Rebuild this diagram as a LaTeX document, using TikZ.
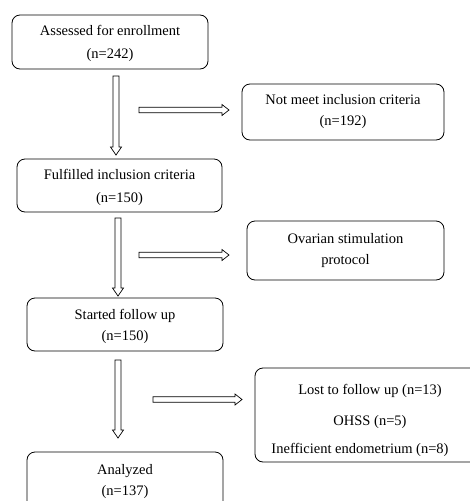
\documentclass[tikz,border=0pt]{standalone}
\usepackage{fontspec}
\setmainfont{Liberation Serif}
\newcommand{\vblockarrow}[3]{%
  \draw[blockarrow] (#1-3,#2) -- (#1+3,#2) -- (#1+3,#3-8) -- (#1+5.5,#3-8) -- (#1,#3) -- (#1-5.5,#3-8) -- (#1-3,#3-8) -- cycle;}
\newcommand{\hblockarrow}[3]{%
  \draw[blockarrow] (#1,#3-2.8) -- (#2-7,#3-2.8) -- (#2-7,#3-5.5) -- (#2,#3) -- (#2-7,#3+5.5) -- (#2-7,#3+2.8) -- (#1,#3+2.8) -- cycle;}
\begin{document}
\begin{tikzpicture}[x=1pt,y=-1pt,
  box/.style={draw, line width=0.8pt, rounded corners=8pt, align=center,
    font=\fontsize{14.5}{21}\selectfont, inner sep=0pt},
  txt/.style={font=\fontsize{14.5}{21}\selectfont, inner sep=0pt},
  blockarrow/.style={draw, line width=0.7pt, fill=white}]
\useasboundingbox (0,0) rectangle (470,501);
\clip (0,0) rectangle (470,501);
\fill[white] (0,0) rectangle (470,501);

\node[box, minimum width=196pt, minimum height=54pt, text depth=0pt] (b1) at (110,42)
  {Assessed for enrollment\\[2pt](n=242)};
\node[box, minimum width=202pt, minimum height=56pt] (b2) at (343,112)
  {Not meet inclusion criteria\\(n=192)};
\node[box, minimum width=205pt, minimum height=53pt, text depth=0pt] (b3) at (119.5,185.5)
  {Fulfilled inclusion criteria\\[2pt](n=150)};
\node[box, minimum width=197pt, minimum height=59pt] (b4) at (345.5,250.5)
  {Ovarian stimulation\\protocol};
\node[box, minimum width=196pt, minimum height=53pt, text depth=0pt] (b5) at (125,324.5)
  {Started follow up\\(n=150)};
\node[box, minimum width=230pt, minimum height=94pt] (b6) at (370,415) {};
\node[txt, anchor=base] (t6a) at (370,394) {Lost to follow up (n=13)};
\node[txt, anchor=base] (t6b) at (370,425) {OHSS (n=5)};
\begin{scope}
  \clip (256,430) rectangle (470,455.5);
  \node[txt, anchor=base] (t6c) at (360,453) {Inefficient endometrium (n=8)};
\end{scope}
\node[box, minimum width=196pt, minimum height=60pt] (b7) at (125,482)
  {Analyzed\\(n=137)};

\vblockarrow{116}{76}{155}
\hblockarrow{139}{229}{110}
\vblockarrow{118}{218}{296}
\hblockarrow{139}{229}{255}
\vblockarrow{118}{360}{438}
\hblockarrow{153}{242}{399.5}
\end{tikzpicture}
\end{document}
